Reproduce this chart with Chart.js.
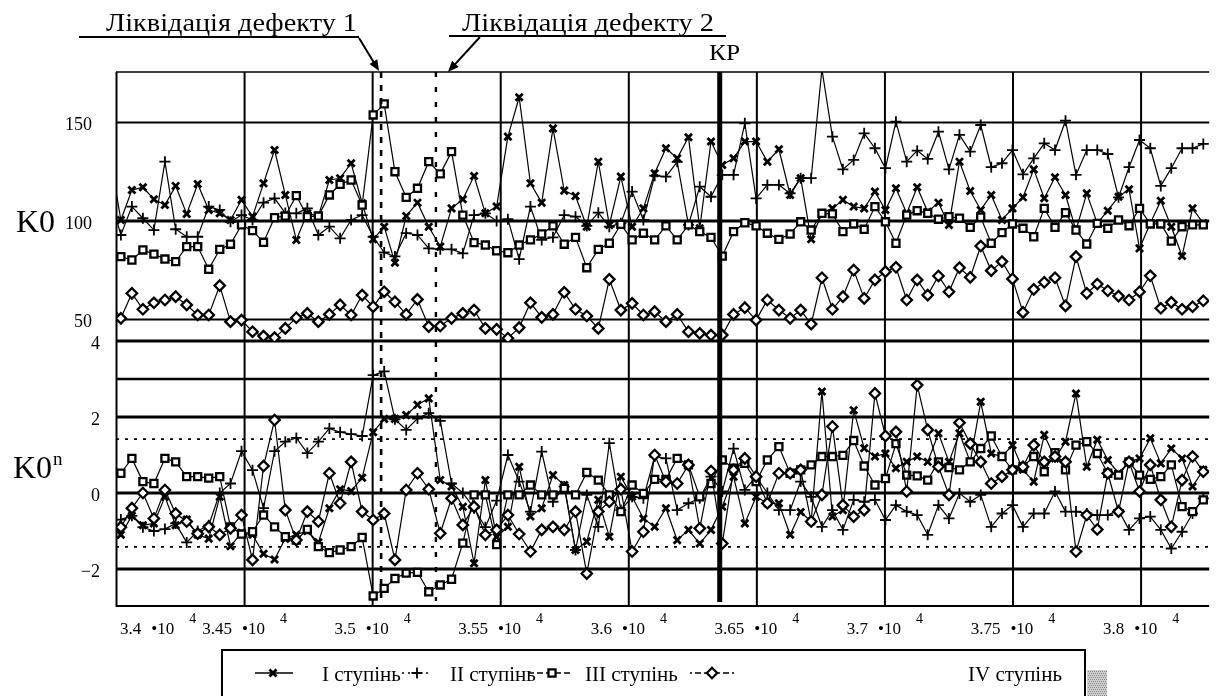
<!DOCTYPE html>
<html>
<head>
<meta charset="utf-8">
<script src="https://cdn.jsdelivr.net/npm/chart.js@4.4.0/dist/chart.umd.min.js"></script>
<style>
  html, body { margin: 0; padding: 0; background: #fff; }
  #wrap { width: 1217px; height: 696px; position: relative; }
</style>
</head>
<body>
<div id="wrap"><canvas id="chart" width="1217" height="696"></canvas></div>
<script>
// values
const X_TICKS = [34000, 34500, 35000, 35500, 36000, 36500, 37000, 37500, 38000];
const X_TICK_LABELS = ['3.4', '3.45', '3.5', '3.55', '3.6', '3.65', '3.7', '3.75', '3.8'];
const TOP_TICKS = [150, 100, 50];
const BOTTOM_TICKS = [4, 2, 0, -2];
const BOTTOM_LINES = [4, 3, 2, 0, -2];
const LIMIT_LINES = [1.42, -1.42];
const DEFECT_1 = 35033;
const DEFECT_2 = 35247;
const KP = 36355;
const SERIES_NAMES = ['I ступінь', 'II ступінь', 'III ступінь', 'IV ступінь'];

const X = [
  33975, 34017, 34060, 34103, 34146, 34189, 34231, 34274, 34317, 34360,
  34403, 34445, 34488, 34531, 34574, 34617, 34659, 34702, 34745, 34788,
  34831, 34873, 34916, 34959, 35002, 35045, 35087, 35131, 35175, 35219,
  35264, 35308, 35352, 35396, 35440, 35484, 35528, 35572, 35616, 35660,
  35704, 35748, 35792, 35836, 35881, 35924, 35969, 36013, 36057, 36101,
  36145, 36189, 36233, 36277, 36321, 36365, 36409, 36453, 36497, 36541,
  36586, 36630, 36671, 36712, 36754, 36795, 36836, 36878, 36919, 36961,
  37002, 37043, 37085, 37126, 37167, 37209, 37250, 37291, 37333, 37374,
  37415, 37457, 37498, 37539, 37581, 37622, 37664, 37705, 37746, 37788,
  37829, 37870, 37912, 37953, 37994, 38036, 38077, 38118, 38160, 38201,
  38243
];

// K0, upper panel
const K0_I = [
  132.6, 100.5, 115.7, 117.1, 111, 108.1, 117.8, 103.6, 118.8, 105.6,
  103.9, 100.5, 110.7, 102.2, 119.1, 136, 113.2, 90.4, 103.9, 102.5,
  120.8, 121.7, 129.3, 109, 90.7, 97.1, 78.8, 102.5, 109.3, 97.1,
  87, 106.4, 111, 122.8, 103.9, 107.3, 142.8, 162.8, 119.1, 109.3,
  147, 115.4, 112.7, 97.1, 130.1, 98, 122.5, 97.1, 106.4, 124.2,
  136.9, 131.8, 142.5, 96.3, 140.3, 128.4, 131.8, 140.3, 140.3, 130.1,
  136.4, 113.2, 121.7, 90.7, 103.9, 106.4, 110.7, 107.3, 106.4, 114.9,
  105.6, 116.6, 103.9, 117.1, 104.7, 109.3, 98, 130.1, 115.2, 105.6,
  113.2, 100.5, 106.4, 112, 126.2, 111.5, 122.2, 113.2, 95.4, 114,
  98.8, 105.2, 112.3, 116.1, 86.1, 98.8, 110.3, 97.1, 82.2, 106.4,
  98.8
];
const K0_II = [
  112, 92.9, 107.3, 101.4, 95.4, 130.1, 95.8, 92, 92, 107.3,
  105.6, 99.6, 103, 100.5, 109.3, 111.5, 104, 103.9, 106.4, 92.9,
  97.1, 91.2, 100.5, 103, 92, 84, 82, 93.8, 92.9, 86.1,
  85.6, 85.6, 83.6, 103, 103.9, 100, 100.9, 80.6, 107.3, 90.4,
  91.7, 103, 102.2, 97.5, 104.2, 97.1, 98.8, 114.9, 100.5, 123,
  122.5, 130, 98, 117.4, 112.3, 123.4, 123.4, 149.6, 111.5, 118.3,
  118.3, 114, 121.7, 121.7, 177, 142.8, 126.2, 131, 144.5, 136.9,
  126.8, 150.4, 130.1, 135.7, 131.5, 145.3, 126.2, 143.7, 135.2, 148.7,
  127.3, 129.3, 136, 123.7, 131.8, 139.4, 136, 150.9, 123.4, 136,
  136, 134, 112, 127.3, 141.1, 136.9, 117.8, 126.8, 136.9, 136.9,
  139.1
];
const K0_III = [
  82, 81.9, 80.2, 85.3, 83.2, 80.7, 79.4, 87, 87, 75.5,
  85.6, 88.2, 98, 95.1, 89.2, 101.7, 102.5, 112.9, 102.2, 102.5,
  113.2, 118.6, 120.8, 108.1, 153.8, 159.4, 125, 112, 116.6, 130.1,
  123.9, 135.2, 103, 89, 87.8, 84.9, 83.9, 87.8, 90.4, 93.4,
  97.5, 88.2, 91.7, 76.3, 85.6, 88.7, 98.3, 90.4, 93.8, 90.4,
  97.5, 90.4, 98, 94.6, 91.7, 82.2, 94.6, 99.1, 97.5, 93.8,
  90.7, 93.4, 99.6, 95.4, 103.9, 103.6, 94.6, 98.5, 95.8, 107.3,
  99.6, 88.7, 103, 105.2, 103.9, 100.9, 102.2, 101.4, 96.8, 101.9,
  88.7, 94.1, 98.5, 96.3, 92, 106.4, 96.8, 104.2, 95.4, 88.3,
  98.8, 96.3, 100.5, 97.6, 106.4, 98.5, 98.5, 89.8, 97.1, 98,
  98
];
const K0_IV = [
  59, 50.6, 63.3, 55.2, 58.5, 59.9, 61.6, 57.4, 52.3, 52.3,
  67.2, 48.9, 49.7, 43.8, 41.6, 40.8, 45.5, 50.9, 53.1, 48.9,
  52.6, 57.4, 52.3, 62.4, 56.5, 64.1, 59, 52.6, 60.2, 46.4,
  46.7, 50.6, 53.1, 54.8, 45.5, 45, 40.5, 45.9, 58.5, 51.1,
  52.6, 63.8, 55.2, 51.8, 45.5, 70.4, 54.8, 58.2, 52.3, 54,
  48.9, 52.6, 43.8, 43, 42.1, 42.1, 52.6, 56, 49.7, 59.9,
  54.8, 50.6, 54.8, 47.7, 71.2, 55.2, 61.6, 75.1, 60.7, 70.1,
  74.3, 76.5, 59.9, 70.1, 62.4, 72.1, 64.1, 76.3, 71.4, 87.3,
  74.8, 79.4, 70.6, 53.6, 65.3, 68.9, 71.2, 56.9, 81.9, 63.3,
  68, 64.6, 61.9, 59.9, 64.1, 72.2, 55.7, 58.7, 55.2, 56.5,
  59.5
];

// K0^n, lower panel
const KN_I = [
  -1.4, -1.1, -0.6, -0.85, -0.8, -0.1, -0.85, -0.7, -1.1, -1.2,
  -0.1, -1.4, -1.05, -1.1, -1.6, -1.75, -1.2, -1.1, -1.0, -1.3,
  -0.4, 0.1, 0.05, 0.4, 1.6, 1.95, 1.95, 2.05, 2.32, 2.49,
  0.34, 0.17, -0.36, -1.85, 0.34, -1.15, -0.89, 0.69, -0.62, -0.4,
  0.47, 0.21, -1.5, -1.28, -0.18, -1.15, 0.43, -0.1, -0.67, -0.89,
  -0.4, -1.24, -0.97, -1.33, -0.97, -0.36, 0.43, -0.8, -0.1, -0.27,
  -0.27, -1.1, -0.5, -0.75, 2.67, -0.62, -0.45, 2.18, 1.18, 0.96,
  1.04, 0.65, 0.82, 0.96, 0.82, 1.57, 0.82, 1.57, 0.82, 2.4,
  1.04, 0.96, 1.26, 0.61, 0.3, 1.53, 0.91, 1.35, 2.62, 0.69,
  1.4, 0.87, 0.52, 0.82, 0.91, 1.44, 0.78, 1.17, 0.91, 0.17,
  0.61
];
const KN_II = [
  -1.3, -0.7, -0.6, -0.9, -1.0, -0.95, -0.8, -1.3, -1.0, -0.85,
  0.0, 0.25, 1.1, 0.6, -0.4, 1.1, 1.35, 1.45, 1.05, 1.35,
  1.7, 1.6, 1.55, 1.5, 3.1, 3.2, 1.94, 1.66, 1.96, 2.1,
  1.9, 0.25, 0.0, -0.4, -0.9, -0.2, 1.0, 0.3, -0.49, 1.09,
  -0.23, 0.17, -1.5, -0.05, -0.89, 1.31, -0.45, -0.1, -0.14, 0.96,
  0.91, -0.45, -0.27, -0.14, 0.43, 0.04, 1.17, 0.08, 0.43, 0.0,
  -0.45, -0.45, 0.3, -0.1, -0.89, -0.45, -0.97, -0.18, -0.23, -0.18,
  -0.71, -0.32, -0.49, -0.58, -1.1, -0.32, -0.67, -0.01, -0.23, -0.05,
  -0.89, -0.54, -0.32, -0.89, -0.54, -0.54, 0.04, -0.49, -0.49, -0.54,
  -0.58, -0.58, -0.45, -0.97, -0.67, -0.62, -0.97, -1.46, -1.02, -0.54,
  -0.14
];
const KN_III = [
  0.55, 0.52, 0.91, 0.3, 0.25, 0.91, 0.82, 0.43, 0.43, 0.39,
  0.43, -0.89, -1.08, -1.02, -0.58, -0.89, -1.15, -1.24, -0.96, -1.41,
  -1.57, -1.5, -1.41, -1.17, -2.71, -2.51, -2.25, -2.11, -2.09, -2.6,
  -2.42, -2.27, -1.32, -0.05, -0.05, -1.36, -0.05, -0.05, 0.21, -0.05,
  -0.05, 0.12, -0.05, 0.54, 0.34, -0.05, -0.49, 0.21, -0.01, 0.36,
  0.36, 0.91, 0.74, -0.1, 0.25, 0.87, 0.65, 0.78, 0.3, 0.87,
  1.22, 0.52, 0.61, 0.74, 0.96, 0.96, 0.99, 1.38, 0.71, 0.21,
  0.38, 1.3, 0.47, 0.45, 0.34, 0.82, 0.67, 0.61, 0.82, 1.17,
  1.5, 0.96, 0.61, 0.69, 0.96, 0.56, 1.06, 0.61, 1.26, 1.35,
  1.04, 0.52, 0.47, 0.82, 0.47, 0.36, 0.43, 0.74, -0.36, -0.49,
  -0.18
];
const KN_IV = [
  -1.2, -0.9, -0.4, 0.0, -0.67, 0.08, -0.54, -0.75, -1.07, -0.89,
  -1.1, -0.93, -0.58, -1.76, 0.71, 1.92, -0.45, -1.24, -0.49, -0.75,
  0.52, -0.27, 0.82, -0.49, -0.71, -0.54, -1.76, 0.08, 0.52, 0.1,
  -1.06, -0.14, -0.84, -0.36, -1.1, -0.97, -0.58, -1.08, -1.54, -0.97,
  -0.89, -0.97, -0.49, -2.12, -0.49, -0.23, 0.1, -1.54, -1.02, 1.0,
  0.3, 0.25, 0.74, -0.93, 0.58, -1.33, 0.61, 0.91, 0.43, -0.27,
  0.52, 0.52, 0.61, -0.75, -0.05, 1.75, -0.32, -0.62, -0.45, 2.62,
  1.5, 1.61, 0.04, 2.84, 1.66, 0.69, -0.05, 1.85, 1.3, 0.82,
  0.25, 0.43, 0.61, 0.69, 1.26, 0.82, 0.96, 0.82, -1.54, -0.58,
  -0.96, 0.52, -0.49, 0.82, 0.04, 0.74, -0.18, -0.89, 0.34, 0.96,
  0.56
];

// layout and styling
const SERIF = '"Liberation Serif", "Times New Roman", serif';
const TOP_SHARE = 0.503;

const MARKERS = [
  { pointStyle: 'crossRot', pointRadius: 5, pointBorderWidth: 2.8 },
  { pointStyle: 'cross', pointRadius: 5.5, pointBorderWidth: 1.8 },
  { pointStyle: 'rect', pointRadius: 5, pointBorderWidth: 2.3, pointBackgroundColor: '#fff' },
  { pointStyle: 'rectRot', pointRadius: 5.2, pointBorderWidth: 2.3, pointBackgroundColor: '#fff' }
];

function series(values, axis, k) {
  return Object.assign({
    label: SERIES_NAMES[k],
    data: X.map((x, i) => ({ x: x, y: values[i] })),
    yAxisID: axis,
    borderColor: '#000',
    borderWidth: 1.2,
    pointBorderColor: '#000',
    pointBackgroundColor: '#000',
    pointHoverRadius: 5,
    tension: 0,
    fill: false
  }, MARKERS[k]);
}

// two stacked panels share one x scale
const panels = {
  id: 'panels',
  afterLayout(chart) {
    const a = chart.chartArea;
    const split = Math.round(a.top + (a.bottom - a.top) * TOP_SHARE);
    const t = chart.scales.yTop, b = chart.scales.yBot;
    t.top = a.top; t.bottom = split; t.height = split - a.top; t.configure();
    b.top = split; b.bottom = a.bottom; b.height = a.bottom - split; b.configure();
  }
};

const grid = {
  id: 'grid',
  beforeDatasetsDraw(chart) {
    const { ctx, chartArea: a, scales: { x, yTop, yBot } } = chart;
    ctx.save();
    ctx.strokeStyle = '#000';
    const h = (y, w, dash) => {
      ctx.lineWidth = w; ctx.setLineDash(dash || []);
      ctx.beginPath(); ctx.moveTo(a.left, y); ctx.lineTo(a.right, y); ctx.stroke();
    };
    X_TICKS.forEach(t => {
      const px = x.getPixelForValue(t);
      ctx.lineWidth = 2; ctx.setLineDash([]);
      ctx.beginPath(); ctx.moveTo(px, a.top); ctx.lineTo(px, a.bottom); ctx.stroke();
    });
    TOP_TICKS.forEach(t => h(yTop.getPixelForValue(t), t === 100 ? 3 : 2));
    BOTTOM_LINES.forEach(t => h(yBot.getPixelForValue(t), t === 3 ? 2.5 : 3));
    LIMIT_LINES.forEach(t => h(yBot.getPixelForValue(t), 1.8, [3, 6]));
    h(a.top, 1.5);
    h(a.bottom - 1, 2);
    ctx.restore();
  }
};

const eventLines = {
  id: 'eventLines',
  afterDatasetsDraw(chart) {
    const { ctx, chartArea: a, scales: { x } } = chart;
    ctx.save();
    ctx.strokeStyle = '#000';
    const v = (px, w, dash, y1) => {
      ctx.lineWidth = w; ctx.setLineDash(dash);
      ctx.beginPath(); ctx.moveTo(px, a.top); ctx.lineTo(px, y1); ctx.stroke();
    };
    v(x.getPixelForValue(DEFECT_1), 2.6, [6, 7], a.bottom);
    v(x.getPixelForValue(DEFECT_2), 2.4, [5, 10], a.bottom - 6);
    v(x.getPixelForValue(KP), 5, [], a.bottom - 5);
    ctx.restore();
  }
};

function fitText(ctx, text, x, y, width) {
  const w = ctx.measureText(text).width;
  ctx.save();
  ctx.translate(x, y);
  ctx.scale(width / w, 1);
  ctx.fillText(text, 0, 0);
  ctx.restore();
}

function arrow(ctx, x0, y0, x1, y1) {
  const ang = Math.atan2(y1 - y0, x1 - x0);
  ctx.lineWidth = 2;
  ctx.beginPath(); ctx.moveTo(x0, y0); ctx.lineTo(x1 - 8 * Math.cos(ang), y1 - 8 * Math.sin(ang)); ctx.stroke();
  ctx.beginPath();
  ctx.moveTo(x1, y1);
  ctx.lineTo(x1 - 11 * Math.cos(ang) + 4.5 * Math.sin(ang), y1 - 11 * Math.sin(ang) - 4.5 * Math.cos(ang));
  ctx.lineTo(x1 - 11 * Math.cos(ang) - 4.5 * Math.sin(ang), y1 - 11 * Math.sin(ang) + 4.5 * Math.cos(ang));
  ctx.closePath(); ctx.fill();
}

function marker(ctx, k, px, py) {
  const m = MARKERS[k];
  ctx.save();
  ctx.setLineDash([]);
  ctx.lineWidth = m.pointBorderWidth;
  ctx.strokeStyle = '#000';
  ctx.fillStyle = m.pointBackgroundColor || '#000';
  if (Chart.helpers && Chart.helpers.drawPoint) {
    Chart.helpers.drawPoint(ctx, { pointStyle: m.pointStyle, radius: m.pointRadius, rotation: 0, borderWidth: m.pointBorderWidth }, px, py);
  }
  ctx.restore();
}

const labels = {
  id: 'labels',
  afterDraw(chart) {
    const { ctx, chartArea: a, scales: { x, yTop, yBot } } = chart;
    ctx.save();
    ctx.fillStyle = '#000';
    ctx.strokeStyle = '#000';

    // y tick labels
    ctx.textAlign = 'right';
    ctx.textBaseline = 'middle';
    ctx.font = '18px ' + SERIF;
    TOP_TICKS.forEach(t => ctx.fillText(String(t), 92, yTop.getPixelForValue(t) + 3));
    BOTTOM_TICKS.forEach(t => ctx.fillText(t < 0 ? '\u2212' + (-t) : String(t), 100, yBot.getPixelForValue(t) + 3));

    // axis titles
    ctx.textAlign = 'left';
    ctx.textBaseline = 'alphabetic';
    ctx.font = '32px ' + SERIF;
    ctx.fillText('K0', 16, 232);
    ctx.fillText('K0', 13, 478);
    const wk = ctx.measureText('K0').width;
    ctx.font = '19px ' + SERIF;
    ctx.fillText('n', 13 + wk + 1, 465);

    // x tick labels "3.5 •10⁴"
    X_TICKS.forEach((t, k) => {
      const num = X_TICK_LABELS[k];
      ctx.font = '17px ' + SERIF;
      const wn = ctx.measureText(num).width;
      const wt = ctx.measureText('\u202210').width;
      ctx.font = '14px ' + SERIF;
      const w4 = ctx.measureText('4').width;
      const total = wn + 10 + wt + 15 + w4;
      let left = x.getPixelForValue(t) - total / 2;
      if (left < a.left + 3) left = a.left + 4;
      ctx.font = '17px ' + SERIF;
      ctx.fillText(num, left, 634);
      ctx.fillText('\u202210', left + wn + 10, 634);
      ctx.font = '14px ' + SERIF;
      ctx.fillText('4', left + wn + 10 + wt + 15, 623);
    });

    // event annotations
    ctx.font = '25px ' + SERIF;
    fitText(ctx, 'Ліквідація дефекту 1', 106, 31, 251);
    fitText(ctx, 'Ліквідація дефекту 2', 462, 31, 252);
    ctx.lineWidth = 2;
    ctx.beginPath(); ctx.moveTo(79, 37); ctx.lineTo(359, 37); ctx.stroke();
    ctx.beginPath(); ctx.moveTo(449, 36); ctx.lineTo(726, 36); ctx.stroke();
    arrow(ctx, 359, 38, x.getPixelForValue(DEFECT_1) - 2, 71);
    arrow(ctx, 480, 37, x.getPixelForValue(DEFECT_2) + 12, 72);
    ctx.font = '23px ' + SERIF;
    fitText(ctx, 'КР', 709, 60, 31);

    // legend box
    const L = { left: 222, top: 650, right: 1085, line: 673, base: 681 };
    ctx.lineWidth = 2;
    ctx.beginPath();
    ctx.moveTo(L.left, 700); ctx.lineTo(L.left, L.top); ctx.lineTo(L.right, L.top); ctx.lineTo(L.right, 700);
    ctx.stroke();
    ctx.fillStyle = '#cfcfcf';
    ctx.fillRect(L.right + 2, 670, 20, 27);
    ctx.fillStyle = '#888';
    for (let gy = 671; gy < 697; gy += 2) {
      for (let gx = L.right + 3 + (gy % 4 === 1 ? 1 : 0); gx < L.right + 22; gx += 2) ctx.fillRect(gx, gy, 1, 1);
    }
    ctx.fillStyle = '#000';

    const samples = [
      { x0: 255, x1: 293, m: 273, dash: [], text: 322 },
      { x0: 402, x1: 432, m: 417, dash: [2, 4], text: 450 },
      { x0: 528, x1: 573, m: 552, dash: [6, 3], text: 585 },
      { x0: 690, x1: 735, m: 712, dash: [2, 3, 6, 3], text: 968 }
    ];
    samples.forEach((s, k) => {
      ctx.lineWidth = 1.5;
      ctx.setLineDash(s.dash);
      ctx.beginPath(); ctx.moveTo(s.x0, L.line); ctx.lineTo(s.x1, L.line); ctx.stroke();
      ctx.setLineDash([]);
      marker(ctx, k, s.m, L.line);
      ctx.fillStyle = '#000';
      ctx.font = '21px ' + SERIF;
      ctx.fillText(SERIES_NAMES[k], s.text, L.base);
    });
    ctx.restore();
  }
};

const ctx = document.getElementById('chart').getContext('2d');
const chart = new Chart(ctx, {
  type: 'line',
  data: {
    datasets: [
      series(K0_IV, 'yTop', 3),
      series(K0_III, 'yTop', 2),
      series(K0_II, 'yTop', 1),
      series(K0_I, 'yTop', 0),
      series(KN_IV, 'yBot', 3),
      series(KN_III, 'yBot', 2),
      series(KN_II, 'yBot', 1),
      series(KN_I, 'yBot', 0)
    ]
  },
  options: {
    responsive: false,
    animation: false,
    devicePixelRatio: 1,
    layout: { padding: { left: 116, top: 72, right: 0, bottom: 89 } },
    plugins: { legend: { display: false }, tooltip: { enabled: false } },
    scales: {
      x: { type: 'linear', min: 33998, max: 38266, display: false },
      yTop: { type: 'linear', min: 39.1, max: 175.6, display: false },
      yBot: { type: 'linear', min: -3.0, max: 4.0, display: false }
    }
  },
  plugins: [panels, grid, eventLines, labels]
});
</script>
</body>
</html>
